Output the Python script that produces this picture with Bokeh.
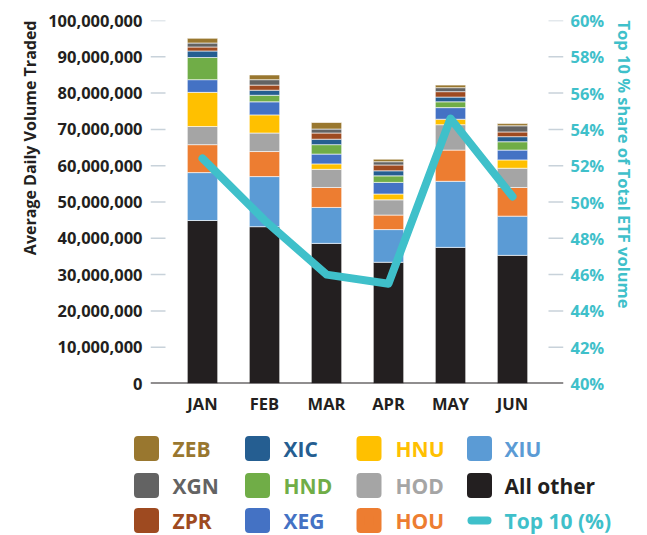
from bokeh.plotting import figure
from bokeh.models import (ColumnDataSource, Range1d, LinearAxis, FixedTicker, Span, Title,
                          NumeralTickFormatter, PrintfTickFormatter)
from bokeh.core.properties import value
from bokeh.embed import file_html
from bokeh.resources import INLINE

# ---------------- data (millions of shares / percent) ----------------
months = ["JAN", "FEB", "MAR", "APR", "MAY", "JUN"]
all_other = [44.9, 43.2, 38.6, 33.4, 37.5, 35.3]
xiu = [13.2, 13.8, 9.9, 9.0, 18.2, 10.8]
hou = [7.7, 6.9, 5.5, 4.0, 8.6, 7.9]
hod = [5.0, 5.1, 5.0, 4.2, 7.0, 5.3]
hnu = [9.4, 5.0, 1.5, 1.6, 1.5, 2.3]
xeg = [3.5, 3.6, 2.7, 3.2, 3.2, 2.7]
hnd = [6.1, 1.8, 2.6, 1.8, 1.6, 2.3]
xic = [1.8, 1.4, 1.5, 1.4, 1.3, 1.4]
zpr = [1.1, 1.4, 1.7, 1.6, 1.5, 1.3]
xgn = [1.1, 1.5, 1.1, 0.9, 1.1, 1.7]
zeb = [1.3, 1.3, 1.8, 0.7, 0.7, 0.6]
top10_pct = [52.4, 49.0, 46.0, 45.5, 54.6, 50.3]

series_names = ["All other", "XIU", "HOU", "HOD", "HNU", "XEG", "HND", "XIC", "ZPR", "XGN", "ZEB"]
series_values = [all_other, xiu, hou, hod, hnu, xeg, hnd, xic, zpr, xgn, zeb]
series_colors = ["#231F20", "#5B9BD5", "#ED7D31", "#A5A5A5", "#FFC000", "#4472C4",
                 "#70AD47", "#255E91", "#9E4A20", "#636363", "#99772F"]

vol_ticks = [0, 10e6, 20e6, 30e6, 40e6, 50e6, 60e6, 70e6, 80e6, 90e6, 100e6]
pct_ticks = [40, 42, 44, 46, 48, 50, 52, 54, 56, 58, 60]

legend_cols = [["ZEB", "XGN", "ZPR"], ["XIC", "HND", "XEG"],
               ["HNU", "HOD", "HOU"], ["XIU", "All other", "Top 10 (%)"]]

TEAL = "#3FC0CA"
DARK = "#231F20"
TICK = "#C8D2DA"
FONT = "Open Sans"

# ---------------- layout constants (pixels) ----------------
W = 647
H1 = 425                       # main chart height
H2 = 535 - H1                  # legend strip height
BL, BR, BT, BB = 150, 84, 20, 42
frame_w = W - BL - BR          # 413 px
STEP = 62.0                    # px per category
x_start = -52.0 / STEP
x_end = x_start + frame_w / STEP
px = 1.0 / STEP                # one pixel in x data units

# ---------------- main chart ----------------
xidx = list(range(len(months)))
data = {"x": xidx}
keys = []
for i, (n, v) in enumerate(zip(series_names, series_values)):
    k = "s%d" % i
    keys.append(k)
    data[k] = [x * 1e6 for x in v]
data["top10"] = top10_pct
source = ColumnDataSource(data)

p = figure(width=W, height=H1,
           x_range=Range1d(x_start, x_end),
           y_range=Range1d(0, 100e6),
           output_backend="svg", toolbar_location=None,
           min_border_left=BL, min_border_right=BR, min_border_top=BT, min_border_bottom=BB)
p.outline_line_color = None
p.xgrid.grid_line_color = None
p.ygrid.grid_line_color = None
p.extra_y_ranges = {"pct": Range1d(40, 60)}

p.vbar_stack(keys, x="x", width=0.49, color=series_colors, source=source,
             line_color="white", line_width=1, line_alpha=0.6)

# tick marks drawn inside the frame edges
p.segment(x0=x_start, x1=x_start + 15 * px, y0=vol_ticks[1:], y1=vol_ticks[1:],
          line_color=TICK, line_width=1.5)
p.segment(x0=x_end - 15 * px, x1=x_end, y0=pct_ticks[1:], y1=pct_ticks[1:],
          y_range_name="pct", line_color=TICK, line_width=1.5)
p.add_layout(Span(location=0, dimension="width", line_color=DARK, line_width=2))

p.line(x="x", y="top10", source=source, y_range_name="pct", line_color=TEAL,
       line_width=8, line_cap="round", line_join="round")

# x axis
xa = p.xaxis[0]
xa.ticker = FixedTicker(ticks=xidx)
xa.major_label_overrides = {i: m for i, m in zip(xidx, months)}
xa.axis_line_color = None
xa.major_tick_line_color = None
xa.minor_tick_line_color = None
xa.major_tick_out = 0
xa.major_tick_in = 0
xa.minor_tick_out = 0
xa.major_label_standoff = 8
xa.major_label_text_font = FONT
xa.major_label_text_font_style = "bold"
xa.major_label_text_font_size = "16.5px"
xa.major_label_text_color = DARK

# left axis
ya = p.yaxis[0]
ya.ticker = FixedTicker(ticks=vol_ticks)
ya.formatter = NumeralTickFormatter(format="0,0")
ya.axis_line_color = None
ya.major_tick_line_color = None
ya.minor_tick_line_color = None
ya.major_tick_out = 0
ya.major_tick_in = 0
ya.minor_tick_out = 0
ya.major_label_standoff = 8
ya.major_label_text_font = FONT
ya.major_label_text_font_style = "bold"
ya.major_label_text_font_size = "16.5px"
ya.major_label_text_color = DARK

# right axis
ra = LinearAxis(y_range_name="pct", ticker=FixedTicker(ticks=pct_ticks),
                formatter=PrintfTickFormatter(format="%d%%"))
ra.axis_line_color = None
ra.major_tick_line_color = None
ra.minor_tick_line_color = None
ra.major_tick_out = 0
ra.major_tick_in = 0
ra.minor_tick_out = 0
ra.major_label_standoff = 7
ra.major_label_text_font = FONT
ra.major_label_text_font_style = "bold"
ra.major_label_text_font_size = "16.5px"
ra.major_label_text_color = TEAL
p.add_layout(ra, "right")

lt = Title(text="Average Daily Volume Traded", align="right", text_font=FONT,
           text_font_style="bold", text_font_size="16px", text_color=DARK)
p.add_layout(lt, "left")
rt = Title(text="Top 10 % share of Total ETF volume", align="left", text_font=FONT,
           text_font_style="bold", text_font_size="16.5px", text_color=TEAL)
p.add_layout(rt, "right")

# ---------------- legend strip (page-pixel coordinates) ----------------
lg = figure(width=W, height=H2, x_range=Range1d(0, W), y_range=Range1d(535, H1),
            output_backend="svg", toolbar_location=None, min_border=0)
lg.axis.visible = False
lg.xgrid.grid_line_color = None
lg.ygrid.grid_line_color = None
lg.outline_line_color = None

col_sw = [146, 257, 368.5, 479]
col_tx = [172, 283, 395, 504]
row_y = [448, 485, 520]
cmap = dict(zip(series_names, series_colors))
cmap["Top 10 (%)"] = TEAL

sx, sy, sc, tx, ty, tt, tc = [], [], [], [], [], [], []
for ci, col in enumerate(legend_cols):
    for ri, name in enumerate(col):
        if name != "Top 10 (%)":
            sx.append(col_sw[ci]); sy.append(row_y[ri]); sc.append(cmap[name])
        else:
            lg.line(x=[col_sw[ci] - 8, col_sw[ci] + 8], y=[row_y[ri], row_y[ri]],
                    line_color=TEAL, line_width=8, line_cap="round")
        tx.append(col_tx[ci]); ty.append(row_y[ri]); tt.append(name); tc.append(cmap[name])

lg.scatter(x=sx, y=sy, marker="square", size=17, fill_color=sc, line_color=sc,
           line_width=8, line_join="round")
lg.text(x=tx, y=ty, text=tt, text_color=tc, text_font=value(FONT), text_font_style="bold",
        text_font_size="21px", text_baseline="middle", text_align="left")

open("out.html", "w").write(file_html([p, lg], INLINE))
